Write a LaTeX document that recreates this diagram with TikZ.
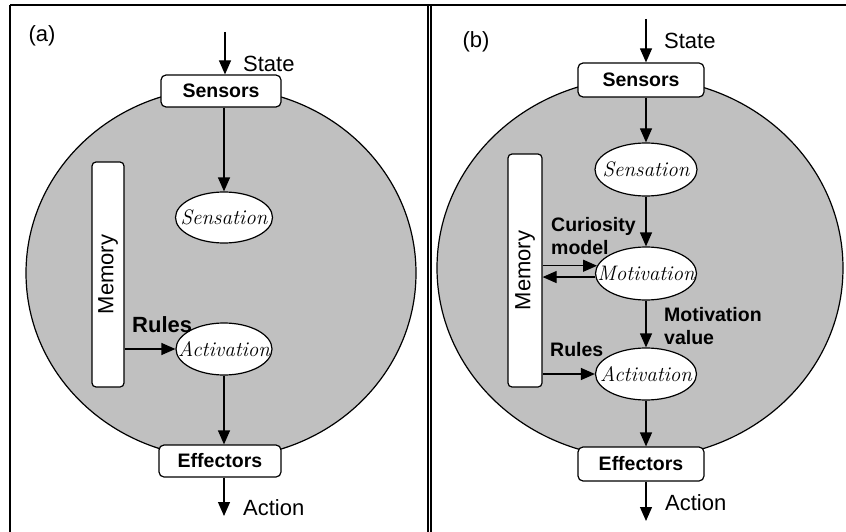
\documentclass[tikz,border=0pt]{standalone}
\usepackage{fontspec}
\setsansfont{Liberation Sans}
\usepackage{tikz}
\usetikzlibrary{positioning}
\usetikzlibrary{shapes.geometric}
\usetikzlibrary{arrows.meta}
\pgfdeclarelayer{bglayer}
\pgfdeclarelayer{nodelayer}
\pgfdeclarelayer{edgelayer}
\pgfsetlayers{bglayer,nodelayer,edgelayer,main}

\definecolor{discgray}{HTML}{C0C0C0}
\newcommand{\elltxt}[1]{\makebox[0pt]{#1}}

\tikzset{
  plain/.style={font=\sffamily\fontsize{22}{26}\selectfont, inner sep=0pt},
  boldlbl/.style={font=\sffamily\bfseries\fontsize{19.5}{23}\selectfont, inner sep=0pt, align=left},
  unitbox/.style={draw, fill=white, rounded corners=5pt, line width=1.2pt,
    font=\sffamily\bfseries\fontsize{19.5}{23}\selectfont},
  oval/.style={draw, fill=white, ellipse, inner sep=0pt, line width=1.2pt,
    font=\rmfamily\itshape\fontsize{21}{23}\selectfont},
  memorybox/.style={draw, fill=white, rounded corners=4pt, line width=1.2pt,
    font=\sffamily\fontsize{22}{26}\selectfont},
  disc/.style={draw, fill=discgray, line width=1.2pt},
  frame/.style={line width=1.6pt},
  arr/.style={line width=1.2pt, -{Triangle[length=14pt,width=12pt]}}
}

\begin{document}
\begin{tikzpicture}[x=10pt, y=10pt]
  \useasboundingbox (0, 0) rectangle (84.6, -53.2);
  \begin{pgfonlayer}{bglayer}
    \draw [frame] (1.0, -0.5) to (84.6, -0.5);
    \draw [frame] (1.0, -0.5) to (1.0, -53.2);
    \draw [line width=1.2pt] (42.8, -0.5) to (42.8, -53.2);
    \draw [line width=1.2pt] (43.1, -0.5) to (43.1, -53.2);
    \draw [disc] (22.1, -27.3) ellipse [x radius=195pt, y radius=185pt];
    \draw [disc] (64.0, -26.8) ellipse [x radius=203pt, y radius=190pt];
  \end{pgfonlayer}
  \begin{pgfonlayer}{nodelayer}
    % (a)
    \node [unitbox, minimum width=120pt, minimum height=32pt] (0) at (22.1, -9.1) {Sensors};
    \node [oval, minimum width=97pt, minimum height=51pt] (1) at (22.4, -21.75) {\elltxt{Sensation}};
    \node [oval, minimum width=96pt, minimum height=52pt] (2) at (22.4, -34.9) {\elltxt{Activation}};
    \node [memorybox, minimum width=32pt, minimum height=225pt] (3) at (10.8, -27.45) {\rotatebox{90}{Memory}};
    \node [unitbox, minimum width=122pt, minimum height=32pt] (4) at (22.0, -46.1) {Effectors};
    \node [plain] (5) at (4.2, -3.6) {(a)};
    \node [plain, anchor=base west] (6) at (24.3, -7.15) {State};
    \node [plain, anchor=base west] (7) at (24.3, -51.5) {Action};
    \node [boldlbl, font=\sffamily\bfseries\fontsize{22}{26}\selectfont, anchor=base west] (8) at (13.2, -33.2) {Rules};
    \coordinate (s1) at (22.5, -3.2);
    \coordinate (a1) at (22.4, -51.6);
    % (b)
    \node [unitbox, minimum width=126pt, minimum height=34pt] (10) at (64.1, -8.0) {Sensors};
    \node [oval, minimum width=102pt, minimum height=53pt] (11) at (64.6, -16.95) {\elltxt{Sensation}};
    \node [oval, minimum width=101pt, minimum height=53pt] (12) at (64.6, -27.35) {\elltxt{Motivation}};
    \node [oval, minimum width=101pt, minimum height=52pt] (13) at (64.6, -37.4) {\elltxt{Activation}};
    \node [memorybox, minimum width=34pt, minimum height=233pt] (14) at (52.5, -27.05) {\rotatebox{90}{Memory}};
    \node [unitbox, minimum width=126pt, minimum height=34pt] (15) at (64.1, -46.4) {Effectors};
    \node [plain] (16) at (47.6, -4.2) {(b)};
    \node [plain, anchor=base west] (17) at (66.4, -4.9) {State};
    \node [plain, anchor=base west] (18) at (66.5, -51.0) {Action};
    \node [boldlbl, anchor=north west] (19) at (55.1, -21.7) {Curiosity\\model};
    \node [boldlbl, anchor=north west] (20) at (66.4, -30.7) {Motivation\\value};
    \node [boldlbl, anchor=base west] (21) at (55.0, -35.6) {Rules};
    \coordinate (s2) at (64.6, -1.9);
    \coordinate (a2) at (64.6, -52.1);
  \end{pgfonlayer}
  \begin{pgfonlayer}{edgelayer}
    \draw [arr] (s1) to (s1 |- 0.north);
    \draw [arr] (1 |- 0.south) to (1);
    \draw [arr] (3.east |- 2.west) to (2.west);
    \draw [arr] (2) to (2 |- 4.north);
    \draw [arr] (a1 |- 4.south) to (a1);
    \draw [arr] (s2) to (s2 |- 10.north);
    \draw [arr] (11 |- 10.south) to (11);
    \draw [arr] (11) to (12);
    \draw [arr] (14.east |- 12.171) to (12.171);
    \draw [arr] (12.184) to (14.east |- 12.184);
    \draw [arr] (12) to (13);
    \draw [arr] (14.east |- 13.west) to (13.west);
    \draw [arr] (13) to (13 |- 15.north);
    \draw [arr] (a2 |- 15.south) to (a2);
  \end{pgfonlayer}
\end{tikzpicture}
\end{document}
